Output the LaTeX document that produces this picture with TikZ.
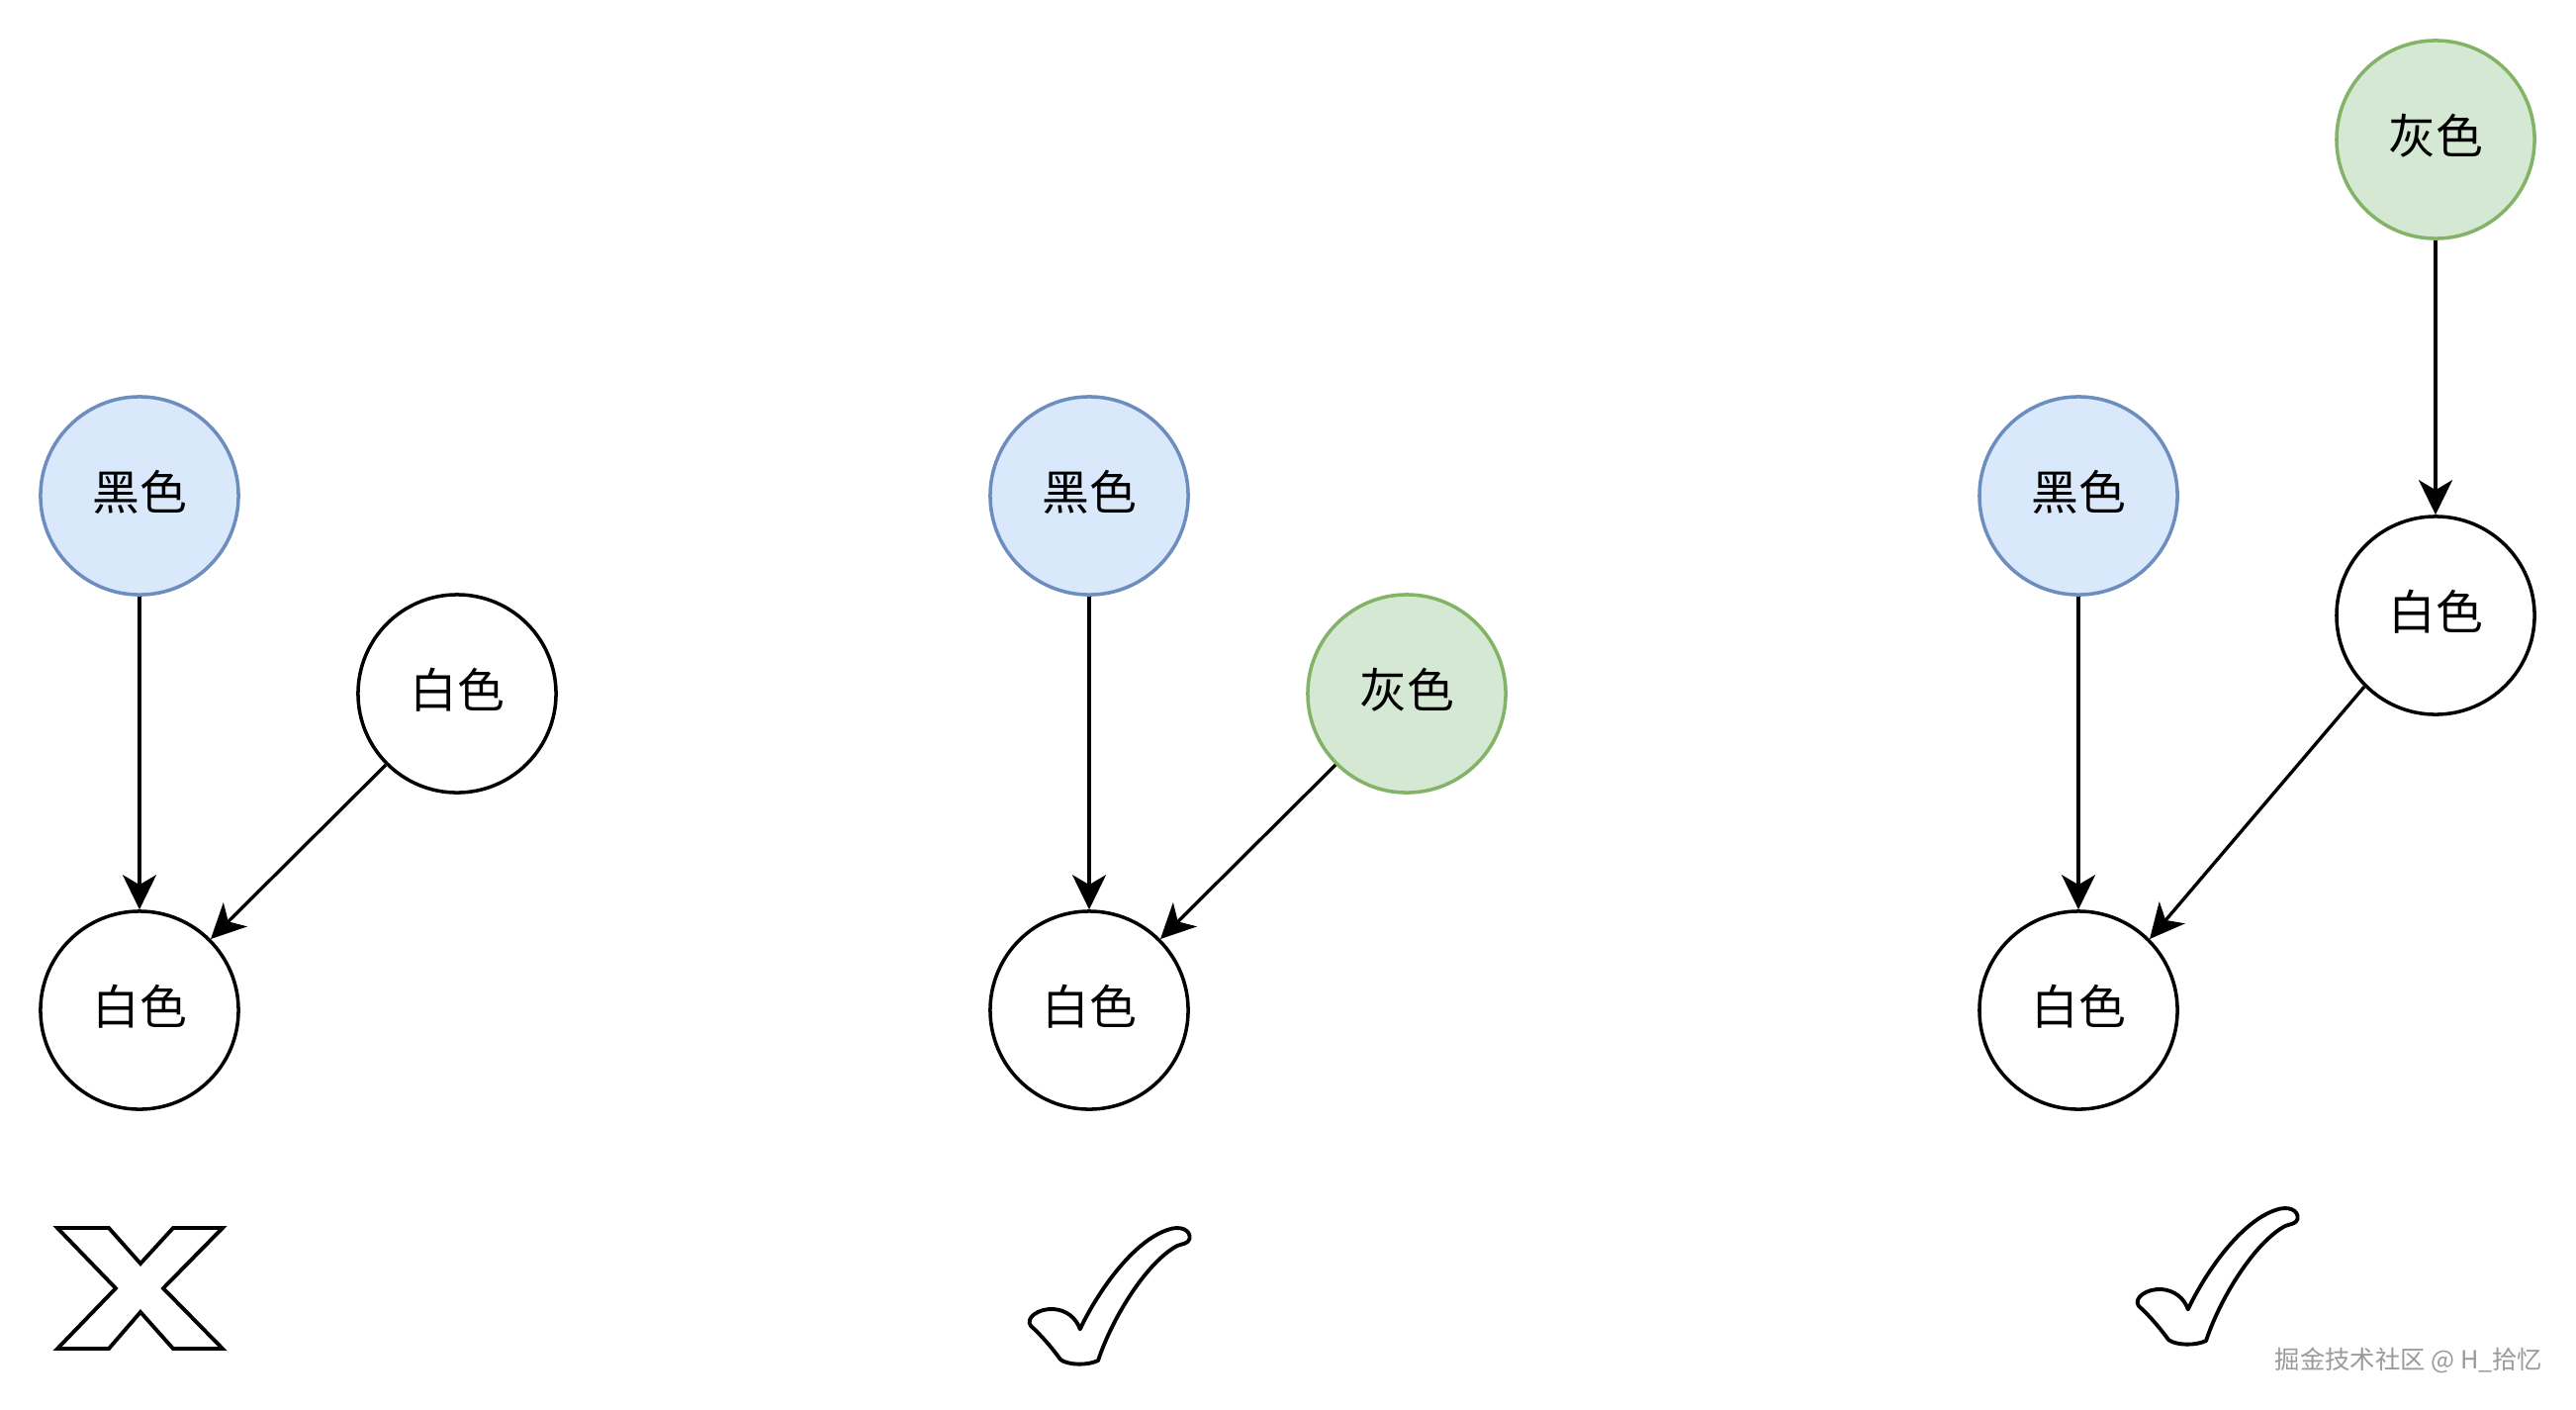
\documentclass[tikz,border=0pt]{standalone}
\usepackage{fontspec}
\newfontfamily\cjk{Noto Sans CJK SC}
\usetikzlibrary{arrows.meta}
\definecolor{bluefill}{HTML}{DAE8FC}
\definecolor{bluestroke}{HTML}{6C8EBF}
\definecolor{greenfill}{HTML}{D5E8D4}
\definecolor{greenstroke}{HTML}{82B366}
\definecolor{wmgray}{HTML}{9A9A9A}
\tikzset{
  circ/.style={circle, minimum size=2cm, inner sep=0pt, line width=1pt,
    font=\cjk\fontsize{13.6pt}{16pt}\selectfont},
  whitecirc/.style={circ, draw=black, fill=white},
  bluecirc/.style={circ, draw=bluestroke, fill=bluefill},
  greencirc/.style={circ, draw=greenstroke, fill=greenfill},
  lbl/.style={font=\cjk\fontsize{13.6pt}{16pt}\selectfont, inner sep=0pt},
  conn/.style={line width=0.95pt, -{Stealth[length=0.35cm, width=0.34cm, inset=0.1cm]}},
  markline/.style={line width=1.1pt, draw=black, fill=white, line join=round},
}
\begin{document}
\begin{tikzpicture}[x=0.01cm, y=-0.01cm]
\useasboundingbox[fill=white] (0,0) rectangle (2604,1424);

% Panel 1
\node[bluecirc]  (k1) at (141,501) {};
\node[whitecirc] (w1) at (462,701) {};
\node[whitecirc] (b1) at (141,1021) {};
\draw[conn] (k1) -- (b1);
\draw[conn] (w1.225) -- (b1.45);

% Panel 2
\node[bluecirc]  (k2) at (1101,501) {};
\node[greencirc] (g2) at (1422,701) {};
\node[whitecirc] (b2) at (1101,1021) {};
\draw[conn] (k2) -- (b2);
\draw[conn] (g2.225) -- (b2.45);

% Panel 3
\node[bluecirc]  (k3) at (2101,501) {};
\node[greencirc] (g3) at (2462,141) {};
\node[whitecirc] (w3) at (2462,622) {};
\node[whitecirc] (b3) at (2101,1021) {};
\draw[conn] (k3) -- (b3);
\draw[conn] (g3) -- (w3);
\draw[conn] (w3.225) -- (b3.45);

% labels (slightly raised as in the reference)
\foreach \n/\t in {k1/黑色, w1/白色, b1/白色, k2/黑色, g2/灰色, b2/白色, k3/黑色, g3/灰色, w3/白色, b3/白色}
  \node[lbl] (\n-t) at ([yshift=0.035cm]\n.center) {\t};

% X mark
\draw[markline, line join=miter] (58,1241) -- (110,1241) -- (142,1277) -- (175,1241) -- (225,1241)
  -- (165,1302) -- (225,1363) -- (175,1363) -- (142,1326) -- (110,1363) -- (58,1363)
  -- (117,1302) -- cycle;

% Check marks
\foreach \dx/\dy in {0/0, 1120/-20} {
\begin{scope}[shift={(\dx,\dy)}]
\draw[markline] (1091.7,1343.3)
  .. controls (1110,1305) and (1145,1255) .. (1180,1243)
  .. controls (1193,1238) and (1204,1243) .. (1202.5,1252)
  .. controls (1201,1257) and (1195,1257) .. (1190,1259)
  .. controls (1160,1275) and (1125,1330) .. (1110,1375)
  .. controls (1100,1380) and (1080,1380) .. (1072,1374)
  .. controls (1062,1360) and (1050,1347) .. (1042,1340)
  .. controls (1036,1332) and (1050,1322) .. (1065,1323)
  .. controls (1078,1324) and (1088,1332) .. (1091.7,1343.3) -- cycle;
\end{scope}
}

% Watermark
\node[font=\cjk\fontsize{7.2pt}{9pt}\selectfont, text=wmgray, inner sep=0pt] (wm) at (2435,1375) {掘金技术社区 @ H\_拾忆};
\end{tikzpicture}
\end{document}
